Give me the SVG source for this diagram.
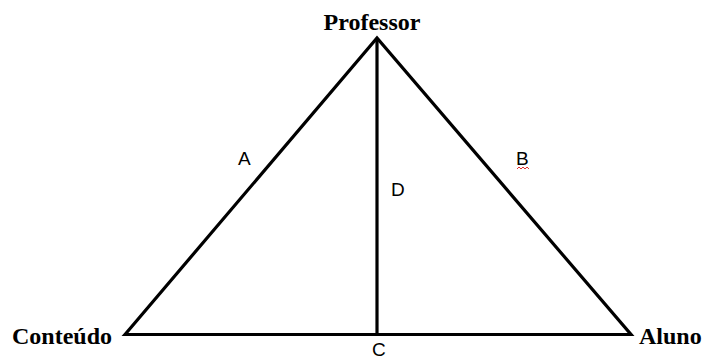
<svg xmlns="http://www.w3.org/2000/svg" width="704" height="362" viewBox="0 0 704 362">
<style>
.ln{stroke:#000;stroke-width:3.2;fill:none;stroke-linejoin:miter}
.vt{font-family:"Liberation Serif",serif;font-weight:bold;font-size:24px;fill:#000}
.lb{font-family:"Liberation Sans",Arial,sans-serif;font-size:19px;fill:#000}
</style>
<rect width="704" height="362" fill="#fff"/>
<g id="connectors">
<path class="ln" d="M125,334.5 L377,38 L631,334.5 Z"/>
<line class="ln" x1="377" y1="38" x2="377" y2="334"/>
</g>
<g id="professor"><text class="vt" x="372" y="30" text-anchor="middle">Professor</text></g>
<g id="conteudo"><text class="vt" x="12" y="344">Conteúdo</text></g>
<g id="aluno"><text class="vt" x="639" y="344">Aluno</text></g>
<g id="labels">
<text class="lb" x="238" y="165">A</text>
<text class="lb" x="516" y="165">B</text>
<path d="M517,169 l2,-2 l2,2 l2,-2 l2,2 l2,-2 l2,2" stroke="#e03030" stroke-width="1" fill="none"/>
<text class="lb" x="372" y="356">C</text>
<text class="lb" x="391" y="196">D</text>
</g>
</svg>
